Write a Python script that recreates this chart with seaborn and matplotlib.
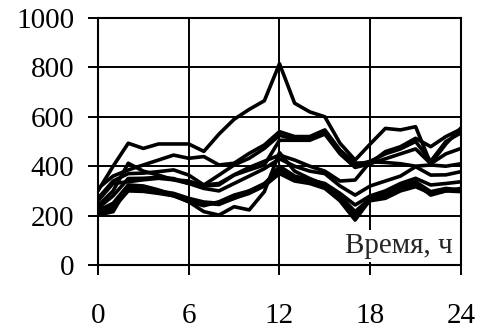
import pandas as pd
import matplotlib
matplotlib.use('Agg')
import matplotlib.pyplot as plt
import seaborn as sns

#########
# daily profiles, hourly points
#########
hours = list(range(25))

a = [300, 400, 493, 472, 490, 490, 490, 460, 530, 590, 630, 665, 815,
     655, 620, 600, 493, 425, 490, 553, 547, 560, 410, 490, 555]
b1 = [310, 360, 385, 405, 425, 445, 432, 439, 405, 412, 452, 486, 540,
      520, 520, 547, 465, 413, 413, 459, 479, 513, 479, 520, 550]
b2 = [270, 340, 370, 372, 378, 385, 364, 324, 364, 405, 432, 472, 525,
      510, 510, 535, 460, 405, 420, 450, 470, 500, 420, 500, 535]
b3 = [260, 330, 337, 345, 351, 345, 340, 320, 324, 364, 385, 405, 505,
      505, 505, 530, 450, 395, 410, 430, 450, 470, 410, 450, 472]
c1 = [240, 300, 412, 380, 364, 345, 330, 324, 330, 365, 395, 420, 445,
      425, 400, 380, 340, 344, 418, 415, 410, 400, 405, 400, 410]
c2 = [230, 280, 350, 351, 355, 350, 330, 310, 300, 330, 360, 390, 430,
      400, 380, 370, 320, 283, 320, 340, 360, 398, 364, 365, 378]
d1 = [220, 250, 324, 320, 304, 283, 256, 240, 256, 283, 300, 324, 400,
      360, 345, 330, 290, 243, 280, 300, 330, 351, 324, 330, 337]
d2 = [210, 240, 310, 305, 300, 290, 270, 255, 250, 270, 300, 330, 385,
      350, 340, 320, 280, 216, 270, 290, 320, 337, 297, 310, 304]
d3 = [205, 230, 300, 298, 290, 280, 262, 250, 245, 270, 290, 320, 370,
      340, 330, 310, 260, 182, 265, 280, 310, 330, 283, 300, 297]
e = [202, 216, 320, 315, 300, 280, 256, 216, 202, 236, 223, 297, 455,
     380, 350, 325, 270, 200, 260, 270, 300, 317, 290, 300, 310]

series = [a, b1, b2, b3, c1, c2, d1, d2, d3, e]

sns.set_style('white')
plt.rcParams['font.family'] = ['Liberation Serif', 'DejaVu Serif']

fig = plt.figure(figsize=(4.81, 3.31), dpi=100)
ax = fig.add_axes([0.2037, 0.1994, 0.7547, 0.7462])

for s in series:
    sns.lineplot(x=hours, y=s, color='black', linewidth=2.6, ax=ax)

ax.set_xlim(0, 24)
ax.set_ylim(0, 1000)
ax.set_xticks([0, 6, 12, 18, 24])
ax.set_yticks([0, 200, 400, 600, 800, 1000])
ax.grid(True, color='black', linewidth=1.4)
ax.set_axisbelow(True)
for sp in ax.spines.values():
    sp.set_visible(True)
    sp.set_color('black')
    sp.set_linewidth(1.5)
ax.tick_params(axis='both', direction='out', length=7.2, width=1.4,
               color='black', labelsize=21, labelcolor='black')
ax.tick_params(axis='y', pad=10, left=True)
ax.tick_params(axis='x', pad=20, bottom=True)

ax.text(0.978, 0.0486, 'Время, ч', transform=ax.transAxes, fontsize=21,
        ha='right', va='baseline',
        bbox=dict(facecolor='white', edgecolor='none', pad=2))

plt.savefig('out.png', dpi=100)
